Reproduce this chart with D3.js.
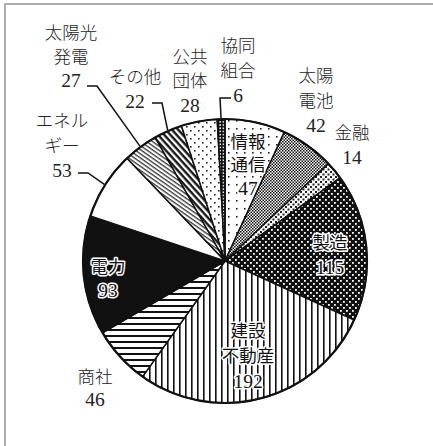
<!DOCTYPE html>
<html>
<head>
<meta charset="utf-8">
<script src="https://cdn.jsdelivr.net/npm/d3@7/dist/d3.min.js"></script>
<style>
  html, body { margin: 0; padding: 0; background: #fff; }
  svg { display: block; }
  text { font-family: "Liberation Serif", "Noto Sans CJK JP", serif; font-size: 17.5px; font-weight: 300; fill: #222; }
  text.num { font-size: 19.5px; }
  text.halo { font-weight: 400; }
</style>
</head>
<body>
<script>
// Categories, clockwise from 12 o'clock
const categories = ["情報通信", "太陽電池", "金融", "製造", "建設不動産", "商社", "電力", "エネルギー", "太陽光発電", "その他", "公共団体", "協同組合"];
const values = [47, 42, 14, 115, 192, 46, 93, 53, 27, 22, 28, 6];
// How each category name is broken into lines
const nameLines = [["情報", "通信"], ["太陽", "電池"], ["金融"], ["製造"], ["建設", "不動産"], ["商社"], ["電力"], ["エネル", "ギー"], ["太陽光", "発電"], ["その他"], ["公共", "団体"], ["協同", "組合"]];

const W = 433, H = 446;
const cx = 225, cy = 261, R = 142;

// Label placement: centre of the first line, line spacing, halo for labels drawn on the pie
const labelLayout = {
  "情報通信":   { x: 248, y: 142, dy: 23, halo: true },
  "太陽電池":   { x: 316, y: 76,  dy: 24.5 },
  "金融":       { x: 352, y: 133, dy: 24 },
  "製造":       { x: 330, y: 243, dy: 24, halo: true },
  "建設不動産": { x: 248, y: 331, dy: 25, halo: true },
  "商社":       { x: 95,  y: 377, dy: 22 },
  "電力":       { x: 108, y: 267, dy: 23, halo: true },
  "エネルギー": { x: 62,  y: 121, dy: 24.5 },
  "太陽光発電": { x: 71,  y: 33,  dy: 23.5 },
  "その他":     { x: 135, y: 77,  dy: 24 },
  "公共団体":   { x: 190, y: 57,  dy: 24 },
  "協同組合":   { x: 238, y: 46,  dy: 24.5 }
};
// Leader lines: points from the label out to an elbow; the last segment ends on the rim
const leaderLayout = {
  "協同組合":   [[231, 98], [220, 98]],
  "その他":     [[152, 103], [162, 103]],
  "太陽光発電": [[87, 86], [97, 86]],
  "エネルギー": [[78, 173], [88, 173]]
};

const svg = d3.select("body").append("svg")
  .attr("width", W).attr("height", H);

// Fill patterns
const defs = svg.append("defs");
function pat(id, w, h, transform) {
  const p = defs.append("pattern").attr("id", id)
    .attr("patternUnits", "userSpaceOnUse").attr("width", w).attr("height", h);
  if (transform) p.attr("patternTransform", transform);
  return p;
}
// sparse dots
let p = pat("p-info", 8, 8);
p.append("rect").attr("width", 8).attr("height", 8).attr("fill", "#fff");
p.append("rect").attr("x", 3).attr("y", 3).attr("width", 1.6).attr("height", 1.6).attr("fill", "#222");
// fine checker
p = pat("p-cell", 3, 3);
p.append("rect").attr("width", 3).attr("height", 3).attr("fill", "#fff");
p.append("rect").attr("width", 1.5).attr("height", 1.5).attr("fill", "#111");
p.append("rect").attr("x", 1.5).attr("y", 1.5).attr("width", 1.5).attr("height", 1.5).attr("fill", "#111");
// light dotted
p = pat("p-fin", 5, 5);
p.append("rect").attr("width", 5).attr("height", 5).attr("fill", "#fff");
p.append("rect").attr("width", 2).attr("height", 2).attr("fill", "#222");
p.append("rect").attr("x", 2.5).attr("y", 2.5).attr("width", 2).attr("height", 2).attr("fill", "#222");
// black with white dots
p = pat("p-mfg", 6, 6);
p.append("rect").attr("width", 6).attr("height", 6).attr("fill", "#111");
p.append("rect").attr("x", 1).attr("y", 1).attr("width", 1.8).attr("height", 1.8).attr("fill", "#fff");
p.append("rect").attr("x", 4).attr("y", 4).attr("width", 1.8).attr("height", 1.8).attr("fill", "#fff");
// vertical stripes
p = pat("p-con", 6, 6);
p.append("rect").attr("width", 6).attr("height", 6).attr("fill", "#fff");
p.append("rect").attr("x", 2).attr("width", 1.6).attr("height", 6).attr("fill", "#111");
// horizontal stripes
p = pat("p-trd", 6, 6);
p.append("rect").attr("width", 6).attr("height", 6).attr("fill", "#fff");
p.append("rect").attr("y", 2).attr("width", 6).attr("height", 2).attr("fill", "#111");
// thin diagonal lines
p = pat("p-pv", 4, 3.4, "rotate(35)");
p.append("rect").attr("width", 4).attr("height", 3.4).attr("fill", "#fff");
p.append("rect").attr("y", 1).attr("width", 4).attr("height", 1.1).attr("fill", "#111");
// thick diagonal lines
p = pat("p-oth", 5, 4.6, "rotate(48)");
p.append("rect").attr("width", 5).attr("height", 4.6).attr("fill", "#fff");
p.append("rect").attr("y", 1).attr("width", 5).attr("height", 2.3).attr("fill", "#111");
// sparse staggered dots
p = pat("p-pub", 8, 8);
p.append("rect").attr("width", 8).attr("height", 8).attr("fill", "#fff");
p.append("rect").attr("x", 1).attr("y", 1).attr("width", 1.6).attr("height", 1.6).attr("fill", "#222");
p.append("rect").attr("x", 5).attr("y", 5).attr("width", 1.6).attr("height", 1.6).attr("fill", "#222");
// dark with small white rings
p = pat("p-coop", 3.2, 3.2);
p.append("rect").attr("width", 3.2).attr("height", 3.2).attr("fill", "#111");
p.append("circle").attr("cx", 1.6).attr("cy", 1.6).attr("r", 0.9).attr("fill", "#fff");

const fills = {
  "情報通信": "url(#p-info)", "太陽電池": "url(#p-cell)", "金融": "url(#p-fin)",
  "製造": "url(#p-mfg)", "建設不動産": "url(#p-con)", "商社": "url(#p-trd)",
  "電力": "#111", "エネルギー": "#fff", "太陽光発電": "url(#p-pv)",
  "その他": "url(#p-oth)", "公共団体": "url(#p-pub)", "協同組合": "url(#p-coop)"
};

// Frame
svg.append("rect").attr("x", 5).attr("y", 4).attr("width", W + 10).attr("height", H + 10)
  .attr("fill", "none").attr("stroke", "#9c9c9c").attr("stroke-width", 1.6);

const data = categories.map((c, i) => ({ name: c, value: values[i], lines: nameLines[i] }));
const pie = d3.pie().sort(null).value(d => d.value);
const arcs = pie(data);
const arc = d3.arc().innerRadius(0).outerRadius(R);

const g = svg.append("g").attr("transform", `translate(${cx},${cy})`);
g.selectAll("path.slice").data(arcs).join("path")
  .attr("class", "slice")
  .attr("d", arc)
  .attr("fill", d => fills[d.data.name])
  .attr("stroke", "#111")
  .attr("stroke-width", 1.5)
  .attr("stroke-linejoin", "round");
g.append("circle").attr("r", R).attr("fill", "none").attr("stroke", "#111").attr("stroke-width", 2.2);

// Leader lines to the rim at each slice's middle angle
arcs.forEach(a => {
  const pts = leaderLayout[a.data.name];
  if (!pts) return;
  const mid = (a.startAngle + a.endAngle) / 2;
  const rim = [cx + (R + 1) * Math.sin(mid), cy - (R + 1) * Math.cos(mid)];
  svg.append("path")
    .attr("d", d3.line()([...pts, rim]))
    .attr("fill", "none").attr("stroke", "#111").attr("stroke-width", 1.5);
});

// Labels: name lines then value
arcs.forEach(a => {
  const L = labelLayout[a.data.name];
  const lines = [...a.data.lines, String(a.data.value)];
  const t = svg.append("g");
  lines.forEach((s, i) => {
    const cls = [i === lines.length - 1 ? "num" : "", L.halo ? "halo" : ""].join(" ").trim();
    const txt = t.append("text")
      .attr("class", cls || null)
      .attr("x", L.x).attr("y", L.y + i * L.dy)
      .attr("text-anchor", "middle")
      .attr("dominant-baseline", "central")
      .text(s);
    if (L.halo) {
      txt.attr("stroke", "#fff").attr("stroke-width", 3)
        .attr("stroke-linejoin", "round").attr("paint-order", "stroke")
        .style("fill", "#111");
    }
  });
});
</script>
</body>
</html>
